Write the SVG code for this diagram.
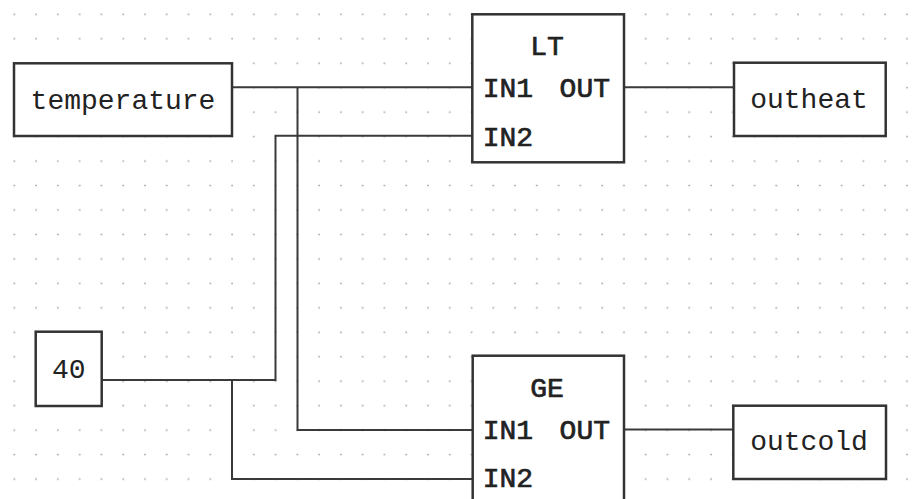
<svg xmlns="http://www.w3.org/2000/svg" width="921" height="499" viewBox="0 0 921 499">
<style>
.box{fill:#fff;stroke:#333;stroke-width:2.5}
.wire{fill:none;stroke:#3a3a3a;stroke-width:2}
.t{font-family:"Liberation Mono","DejaVu Sans Mono",monospace;font-size:28px;fill:#222}
.c{text-anchor:middle}
.b{stroke:#222;stroke-width:0.7}
</style>
<defs>
<pattern id="grid" x="3.415" y="2.07" width="21.77" height="24.46" patternUnits="userSpaceOnUse">
<rect x="10.2" y="11.5" width="1.5" height="1.5" fill="#9a9a9a"/>
</pattern>
</defs>
<rect width="921" height="499" fill="#fff"/>
<rect width="921" height="499" fill="url(#grid)"/>
<g id="connectors">
<path class="wire" d="M232 87.3 H472"/>
<path class="wire" d="M297.5 87.3 V430 H472"/>
<path class="wire" d="M101.7 380 H275.5 V135.7 H472"/>
<path class="wire" d="M232 380 V479 H472"/>
<path class="wire" d="M624 87.3 H734"/>
<path class="wire" d="M624 429.5 H734"/>
</g>
<g id="temperature">
<rect class="box" x="14" y="63.3" width="218" height="72.7"/>
<text class="t c" x="123" y="109">temperature</text>
</g>
<g id="const40">
<rect class="box" x="35.7" y="331.7" width="66" height="74.3"/>
<text class="t c" x="68.7" y="378">40</text>
</g>
<g id="LT">
<rect class="box" x="472.3" y="14.3" width="151.7" height="148"/>
<text class="t c b" x="547" y="54.5">LT</text>
<text class="t b" x="482.7" y="96.7">IN1</text>
<text class="t b" x="610" y="96.7" text-anchor="end">OUT</text>
<text class="t b" x="482.7" y="146">IN2</text>
</g>
<g id="GE">
<rect class="box" x="472.7" y="355.7" width="151.3" height="160"/>
<text class="t c b" x="547" y="397">GE</text>
<text class="t b" x="482.7" y="439">IN1</text>
<text class="t b" x="610" y="439" text-anchor="end">OUT</text>
<text class="t b" x="482.7" y="487">IN2</text>
</g>
<g id="outheat">
<rect class="box" x="734" y="62.7" width="151.7" height="73.3"/>
<text class="t c" x="809" y="108">outheat</text>
</g>
<g id="outcold">
<rect class="box" x="733.3" y="405.7" width="152.7" height="73.3"/>
<text class="t c" x="809" y="450">outcold</text>
</g>
</svg>
